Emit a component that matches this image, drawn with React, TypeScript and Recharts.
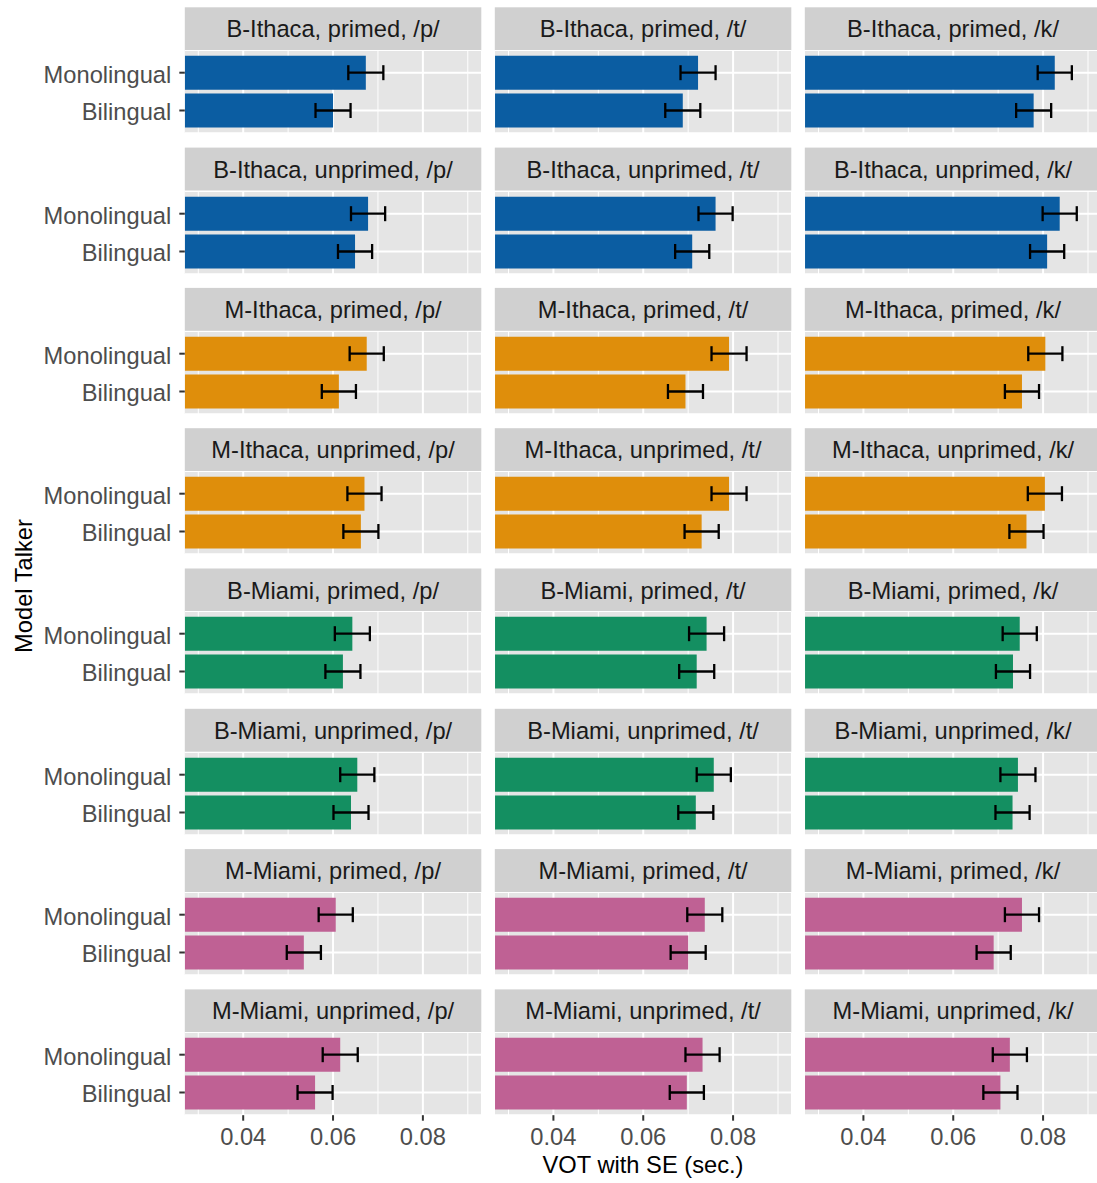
import React from 'react';
import { BarChart, Bar, XAxis, YAxis, CartesianGrid, ErrorBar } from 'recharts';

// ---- data ----
const talkers = ['Monolingual', 'Bilingual'];
const facetRows = [
  'B-Ithaca, primed',
  'B-Ithaca, unprimed',
  'M-Ithaca, primed',
  'M-Ithaca, unprimed',
  'B-Miami, primed',
  'B-Miami, unprimed',
  'M-Miami, primed',
  'M-Miami, unprimed',
];
const facetCols = ['/p/', '/t/', '/k/'];

// VOT means (sec.) per facet row, columns = /p/, /t/, /k/
const monolingualVOT = [
  [0.0673, 0.0722, 0.0826],
  [0.0678, 0.0761, 0.0837],
  [0.0675, 0.0791, 0.0805],
  [0.0670, 0.0791, 0.0804],
  [0.0643, 0.0741, 0.0748],
  [0.0654, 0.0757, 0.0744],
  [0.0606, 0.0737, 0.0753],
  [0.0616, 0.0732, 0.0726],
];
const bilingualVOT = [
  [0.0600, 0.0688, 0.0779],
  [0.0649, 0.0709, 0.0809],
  [0.0613, 0.0694, 0.0753],
  [0.0662, 0.0730, 0.0763],
  [0.0622, 0.0719, 0.0733],
  [0.0640, 0.0717, 0.0732],
  [0.0535, 0.0700, 0.0690],
  [0.0560, 0.0697, 0.0705],
];
const monolingualSE = [
  [0.0039, 0.0039, 0.0038],
  [0.0038, 0.0038, 0.0038],
  [0.0038, 0.0039, 0.0038],
  [0.0038, 0.0039, 0.0038],
  [0.0039, 0.0039, 0.0038],
  [0.0038, 0.0038, 0.0039],
  [0.0038, 0.0039, 0.0038],
  [0.0039, 0.0038, 0.0038],
];
const bilingualSE = [
  [0.0039, 0.0039, 0.0039],
  [0.0038, 0.0038, 0.0038],
  [0.0038, 0.0039, 0.0038],
  [0.0039, 0.0038, 0.0038],
  [0.0039, 0.0039, 0.0038],
  [0.0039, 0.0039, 0.0038],
  [0.0038, 0.0039, 0.0038],
  [0.0039, 0.0038, 0.0038],
];
const xMajorTicks = [0.04, 0.06, 0.08];
const xMinorTicks = [0.03, 0.05, 0.07, 0.09];
const xDomain = [0.027, 0.093];
const rowColors = ['#0B5DA2', '#0B5DA2', '#DF8E0B', '#DF8E0B', '#148F61', '#148F61', '#BF6194', '#BF6194'];

// ---- layout ----
const FONT = '"Liberation Sans", Arial, Helvetica, sans-serif';
const FS = 23.7;
const ROW0 = 7.3;
const ROW_PITCH = 140.3;
const STRIP_H = 42.9;
const PANEL_H = 83.2;
const COL0 = 184.8;
const COL_PITCH = 310;
const PANEL_W = 296.5;
const X_AXIS_H = 44;

const rowTop = (r: number) => ROW0 + r * ROW_PITCH;
const panelTop = (r: number) => rowTop(r) + STRIP_H;
const colLeft = (c: number) => COL0 + c * COL_PITCH;

function Panel({ r, c }: { r: number; c: number }) {
  const data = talkers.map((t, i) => ({
    talker: t,
    vot: i === 0 ? monolingualVOT[r][c] : bilingualVOT[r][c],
    se: i === 0 ? monolingualSE[r][c] : bilingualSE[r][c],
  }));
  const showY = c === 0;
  const showX = r === facetRows.length - 1;
  const yW = showY ? COL0 : 0;
  const xH = showX ? X_AXIS_H : 0;
  const left = showY ? 0 : colLeft(c);
  const width = yW + PANEL_W;
  const height = PANEL_H + xH;
  return (
    <div style={{ position: 'absolute', left, top: panelTop(r), width, height }}>
      <BarChart
        layout="vertical"
        width={width}
        height={height}
        data={data}
        margin={{ top: 0, right: 0, bottom: 0, left: 0 }}
        barCategoryGap="5%"
      >
        <CartesianGrid
          fill="#E5E5E5"
          stroke="#FFFFFF"
          strokeWidth={1}
          horizontal={false}
          verticalValues={xMinorTicks}
        />
        <CartesianGrid
          stroke="#FFFFFF"
          strokeWidth={2}
          verticalValues={xMajorTicks}
        />
        <XAxis
          type="number"
          domain={xDomain}
          allowDataOverflow
          ticks={xMajorTicks}
          interval={0}
          hide={!showX}
          height={xH}
          axisLine={false}
          tickLine={{ stroke: '#333333', strokeWidth: 2 }}
          tickSize={5.5}
          tickMargin={7.5}
          tick={{ fill: '#4D4D4D', fontSize: FS, fontFamily: FONT }}
          tickFormatter={(v: number) => v.toFixed(2)}
        />
        <YAxis
          type="category"
          dataKey="talker"
          hide={!showY}
          width={yW}
          interval={0}
          padding={{ top: 3.8, bottom: 3.8 }}
          axisLine={false}
          tickLine={{ stroke: '#333333', strokeWidth: 2 }}
          tickSize={5.5}
          tickMargin={8}
          tick={{ fill: '#4D4D4D', fontSize: FS, fontFamily: FONT, dy: 1.5 }}
        />
        <Bar dataKey="vot" fill={rowColors[r]} isAnimationActive={false}>
          <ErrorBar dataKey="se" direction="x" width={7.5} strokeWidth={2.3} stroke="#000000" isAnimationActive={false} />
        </Bar>
      </BarChart>
    </div>
  );
}

export default function App() {
  const panels: React.ReactNode[] = [];
  const strips: React.ReactNode[] = [];
  facetRows.forEach((rowName, r) => {
    facetCols.forEach((colName, c) => {
      panels.push(<Panel key={`p-${r}-${c}`} r={r} c={c} />);
      strips.push(
        <g key={`s-${r}-${c}`}>
          <rect x={colLeft(c)} y={rowTop(r)} width={PANEL_W} height={STRIP_H} fill="#D0D0D0" />
          <text
            x={colLeft(c) + PANEL_W / 2}
            y={rowTop(r) + 30}
            textAnchor="middle"
            fontSize={FS}
            fontFamily={FONT}
            fill="#1A1A1A"
          >
            {`${rowName}, ${colName}`}
          </text>
        </g>
      );
    });
  });
  const plotLeft = COL0;
  const plotRight = colLeft(2) + PANEL_W;
  return (
    <div
      style={{
        position: 'absolute',
        left: 0,
        top: 0,
        width: 1097,
        height: 1183,
        overflow: 'hidden',
        background: '#FFFFFF',
      }}
    >
      <svg width={1097} height={1183} style={{ position: 'absolute', left: 0, top: 0 }}>
        {strips}
        <text
          x={(plotLeft + plotRight) / 2}
          y={1173}
          textAnchor="middle"
          fontSize={FS}
          fontFamily={FONT}
          fill="#000000"
        >
          VOT with SE (sec.)
        </text>
        <text
          transform="translate(31.5, 586) rotate(-90)"
          x={0}
          y={0}
          textAnchor="middle"
          fontSize={FS}
          fontFamily={FONT}
          fill="#000000"
        >
          Model Talker
        </text>
      </svg>
      {panels}
    </div>
  );
}
